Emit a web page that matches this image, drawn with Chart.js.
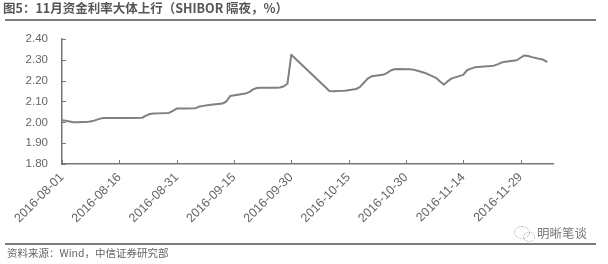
<!DOCTYPE html>
<html><head><meta charset="utf-8">
<script src="https://cdn.jsdelivr.net/npm/chart.js@4.4.0/dist/chart.umd.min.js"></script>
<style>
html,body{margin:0;padding:0;background:#fff;width:608px;height:264px;overflow:hidden;}
#wrap{position:relative;width:608px;height:264px;}
#cv{position:absolute;left:0;top:0;}
.title{position:absolute;left:3px;top:0px;font:bold 12.5px "Noto Sans CJK SC",sans-serif;color:#555;line-height:15px;white-space:nowrap;}
.rule{position:absolute;left:5px;width:591px;height:2px;background:#7c7c7c;}
.src{position:absolute;left:7px;top:246px;font:10.5px "Noto Sans CJK SC",sans-serif;color:#666;white-space:nowrap;line-height:14px;}
.wm{position:absolute;left:537px;top:225px;font:12.5px "Noto Sans CJK SC",sans-serif;color:#777;white-space:nowrap;line-height:16px;}
.bub{position:absolute;left:514px;top:226px;width:14px;height:11px;border:1.5px dotted #aaa;border-radius:50%;}
.bub2{position:absolute;left:523px;top:232px;width:10px;height:8px;border:1.5px dotted #aaa;border-radius:50%;}
</style></head>
<body><div id="wrap">
<canvas id="cv" width="608" height="264"></canvas>
<div class="title">图5：11月资金利率大体上行（SHIBOR 隔夜，%）</div>
<div class="rule" style="top:19px"></div>
<div class="bub"></div><div class="bub2"></div>
<div class="wm">明晰笔谈</div>
<div class="rule" style="top:243px"></div>
<div class="src">资料来源：Wind，中信证券研究部</div>
</div>
<script>
const dates = [
'2016-08-01','2016-08-02','2016-08-03','2016-08-04','2016-08-05',
'2016-08-08','2016-08-09','2016-08-10','2016-08-11','2016-08-12',
'2016-08-15','2016-08-16','2016-08-17','2016-08-18','2016-08-19',
'2016-08-22','2016-08-23','2016-08-24','2016-08-25','2016-08-26',
'2016-08-29','2016-08-30','2016-08-31',
'2016-09-01','2016-09-02','2016-09-05','2016-09-06','2016-09-07','2016-09-08','2016-09-09',
'2016-09-12','2016-09-13','2016-09-14','2016-09-18',
'2016-09-19','2016-09-20','2016-09-21','2016-09-22','2016-09-23',
'2016-09-26','2016-09-27','2016-09-28','2016-09-29','2016-09-30',
'2016-10-10','2016-10-11','2016-10-12','2016-10-13','2016-10-14',
'2016-10-17','2016-10-18','2016-10-19','2016-10-20','2016-10-21',
'2016-10-24','2016-10-25','2016-10-26','2016-10-27','2016-10-28','2016-10-31',
'2016-11-01','2016-11-02','2016-11-03','2016-11-04',
'2016-11-07','2016-11-08','2016-11-09','2016-11-10','2016-11-11',
'2016-11-14','2016-11-15','2016-11-16','2016-11-17','2016-11-18',
'2016-11-21','2016-11-22','2016-11-23','2016-11-24','2016-11-25',
'2016-11-28','2016-11-29','2016-11-30',
'2016-12-01','2016-12-02','2016-12-05','2016-12-06'
];
const shiborON = [
2.010,2.008,2.004,2.000,2.000,
2.003,2.006,2.012,2.018,2.021,
2.021,2.021,2.021,2.021,2.021,
2.022,2.032,2.040,2.042,2.043,
2.045,2.055,2.066,
2.067,2.067,2.068,2.076,2.079,2.082,2.084,
2.090,2.100,2.126,2.138,
2.145,2.158,2.165,2.166,2.166,
2.166,2.167,2.172,2.185,2.324,
2.150,2.149,2.150,2.151,2.152,
2.160,2.170,2.190,2.210,2.221,
2.228,2.236,2.249,2.255,2.256,2.255,
2.253,2.248,2.243,2.237,
2.212,2.195,2.181,2.198,2.211,
2.228,2.250,2.258,2.264,2.266,
2.270,2.272,2.278,2.287,2.291,
2.298,2.310,2.321,
2.318,2.313,2.300,2.289
];
const xTickLabels = ['2016-08-01','2016-08-16','2016-08-31','2016-09-15','2016-09-30','2016-10-15','2016-10-30','2016-11-14','2016-11-29'];
const xEnd = '2016-12-07';
const yTickStep = 0.1, yMin = 1.8, yMax = 2.4;

const dayOf = s => { const [a,b,c] = s.split('-').map(Number); return Math.round((Date.UTC(a,b-1,c) - Date.UTC(2016,7,1)) / 86400000); };
const pts = dates.map((d,i) => ({x: dayOf(d), y: shiborON[i]}));
const tickDays = xTickLabels.map(dayOf);

const inward = {
  id:'inward',
  afterDraw(chart){
    const {ctx, scales:{x,y}} = chart;
    ctx.save(); ctx.strokeStyle='#777'; ctx.lineWidth=1; ctx.beginPath();
    y.ticks.forEach(t=>{ const py=Math.round(y.getPixelForValue(t.value))+0.5; ctx.moveTo(x.left,py); ctx.lineTo(x.left+4,py); });
    x.ticks.forEach(t=>{ const px=Math.round(x.getPixelForValue(t.value))+0.5; ctx.moveTo(px,y.bottom); ctx.lineTo(px,y.bottom-4); });
    ctx.stroke(); ctx.restore();
  }
};

new Chart(document.getElementById('cv'), {
  type:'line',
  data:{ datasets:[{ data: pts, borderColor:'#808080', borderWidth:2, pointRadius:0, tension:0, borderJoinStyle:'round', fill:false }]},
  options:{
    responsive:false, animation:false, events:[],
    layout:{ padding:{ left:0, right:55, top:39, bottom:0 } },
    plugins:{ legend:{display:false}, tooltip:{enabled:false} },
    scales:{
      x:{
        type:'linear', min:0, max:dayOf(xEnd)+0.5,
        afterBuildTicks: s => { s.ticks = tickDays.map(v=>({value:v})); },
        afterFit: s => { s.height = 100; },
        grid:{ drawOnChartArea:false, drawTicks:false },
        border:{ color:'#777', width:1.5 },
        ticks:{ autoSkip:false, maxRotation:45, minRotation:45, padding:6, color:'#666',
          font:{ family:'Liberation Sans', size:12.5 },
          callback: (v) => { const i = tickDays.indexOf(v); return i>=0 ? xTickLabels[i] : ''; } }
      },
      y:{
        min:yMin, max:yMax,
        afterFit: s => { s.width = 62; },
        grid:{ drawOnChartArea:false, drawTicks:false },
        border:{ color:'#777', width:1.5 },
        ticks:{ stepSize:yTickStep, padding:14, color:'#666',
          font:{ family:'Liberation Sans', size:11.5 },
          callback: v => Number(v).toFixed(2) }
      }
    }
  },
  plugins:[inward]
});
</script>
</body></html>
